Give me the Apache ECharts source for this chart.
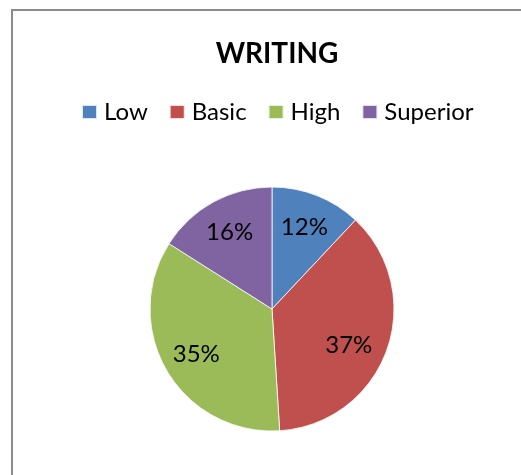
<!DOCTYPE html>
<html>
<head>
<meta charset="utf-8">
<style>
  html, body { margin: 0; padding: 0; background: #fff; }
  #chart { width: 521px; height: 475px; }
</style>
<script src="https://cdn.jsdelivr.net/npm/echarts@6/dist/echarts.min.js"></script>
</head>
<body>
<div id="chart"></div>
<script>
// Writing proficiency levels (share of students, %)
const categories = ['Low', 'Basic', 'High', 'Superior'];
const shares = [12, 37, 35, 16];
const colors = ['#4F81BD', '#C0504D', '#9BBB59', '#8064A2'];

const FONT = 'Lato';

// nudge for the big Basic label, which sits a little lower and inward
const labelNudge = { Basic: [-6, 6] };

const chart = echarts.init(document.getElementById('chart'), null, { renderer: 'canvas' });

chart.setOption({
  backgroundColor: '#ffffff',
  animation: false,
  graphic: [{
    type: 'rect',
    shape: { x: 12, y: 10, width: 600, height: 600 },
    style: { fill: 'none', stroke: '#8c8c8c', lineWidth: 2 },
    silent: true,
    z: -10
  }],
  title: {
    text: 'WRITING',
    left: 272,
    textAlign: 'center',
    top: 35,
    textStyle: { fontFamily: FONT, fontWeight: 'bold', fontSize: 28, color: '#000' }
  },
  legend: {
    data: categories,
    top: 95,
    left: 76,
    icon: 'rect',
    itemWidth: 15,
    itemHeight: 14,
    itemGap: 21,
    textStyle: { fontFamily: FONT, fontSize: 24, color: '#000', padding: [0, 0, 0, 2] }
  },
  series: [
    {
      type: 'pie',
      center: [272, 309],
      radius: [0, 122],
      startAngle: 90,
      clockwise: true,
      silent: true,
      data: categories.map((name, i) => ({
        name: name,
        value: shares[i],
        itemStyle: { color: colors[i] }
      })),
      itemStyle: { borderColor: 'rgba(255,255,255,0.8)', borderWidth: 1 },
      label: { show: false },
      labelLine: { show: false }
    },
    {
      // transparent twin pie carrying the percent labels further out than the midpoint
      type: 'pie',
      center: [272, 309],
      radius: [0, 170],
      startAngle: 90,
      clockwise: true,
      silent: true,
      data: categories.map((name, i) => ({
        name: name,
        value: shares[i],
        label: labelNudge[name] ? { offset: labelNudge[name] } : {}
      })),
      itemStyle: { color: 'rgba(0,0,0,0)' },
      label: {
        show: true,
        position: 'inside',
        formatter: p => p.value + '%',
        fontFamily: FONT,
        fontSize: 24,
        color: '#000'
      },
      labelLine: { show: false }
    }
  ]
});
</script>
</body>
</html>
